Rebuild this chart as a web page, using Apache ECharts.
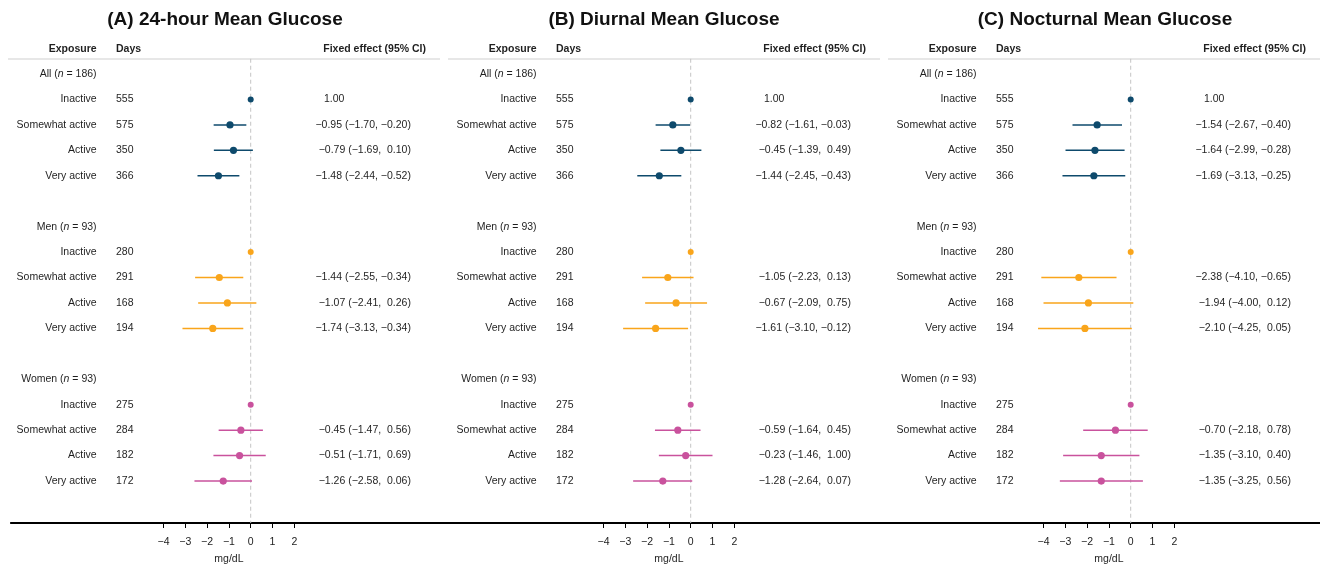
<!DOCTYPE html>
<html><head><meta charset="utf-8">
<script src="https://cdn.jsdelivr.net/npm/echarts@6/dist/echarts.min.js"></script>
<style>html,body{margin:0;padding:0;background:#fff}#c{width:1320px;height:564px}</style>
</head><body><div id="c"></div>
<script>
// ---------- data ----------
const panelTitles = ['(A) 24-hour Mean Glucose', '(B) Diurnal Mean Glucose', '(C) Nocturnal Mean Glucose'];
const groupNames = ['All', 'Men', 'Women'];
const groupN = [186, 93, 93];
const exposures = ['Inactive', 'Somewhat active', 'Active', 'Very active'];
const daysAll = [555, 575, 350, 366];
const daysMen = [280, 291, 168, 194];
const daysWomen = [275, 284, 182, 172];
const refText = ['1.00', '', ''];
const xTicks = [-4, -3, -2, -1, 0, 1, 2];
const xUnit = 'mg/dL';

// Panel A: 24-hour
const estA = [[0, -0.95, -0.79, -1.48], [0, -1.44, -1.07, -1.74], [0, -0.45, -0.51, -1.26]];
const loA  = [[null, -1.70, -1.69, -2.44], [null, -2.55, -2.41, -3.13], [null, -1.47, -1.71, -2.58]];
const hiA  = [[null, -0.20, 0.10, -0.52], [null, -0.34, 0.26, -0.34], [null, 0.56, 0.69, 0.06]];
// Panel B: Diurnal
const estB = [[0, -0.82, -0.45, -1.44], [0, -1.05, -0.67, -1.61], [0, -0.59, -0.23, -1.28]];
const loB  = [[null, -1.61, -1.39, -2.45], [null, -2.23, -2.09, -3.10], [null, -1.64, -1.46, -2.64]];
const hiB  = [[null, -0.03, 0.49, -0.43], [null, 0.13, 0.75, -0.12], [null, 0.45, 1.00, 0.07]];
// Panel C: Nocturnal
const estC = [[0, -1.54, -1.64, -1.69], [0, -2.38, -1.94, -2.10], [0, -0.70, -1.35, -1.35]];
const loC  = [[null, -2.67, -2.99, -3.13], [null, -4.10, -4.00, -4.25], [null, -2.18, -3.10, -3.25]];
const hiC  = [[null, -0.40, -0.28, -0.25], [null, -0.65, 0.12, 0.05], [null, 0.78, 0.40, 0.56]];

// ---------- layout / style ----------
const days = [daysAll, daysMen, daysWomen];
const panels = [[estA, loA, hiA], [estB, loB, hiB], [estC, loC, hiC]];
const colors = ['#0e4a6c', '#f9a51b', '#c9529d'];
const FONT = '"Liberation Sans", Arial, Helvetica, sans-serif';
const FS = 10.5;
const pxPerUnit = 21.8;
const xMin = -11;
const panelW = 440;
const W = 1320;
const gridLeft0 = 250.7 + xMin * pxPerUnit;   // zero of panel A at ~250.7 px
const yMin = -0.6, yMax = 17.65, rowPx = 25.44;
const gridTop = 74 + yMin * rowPx;
const gridH = (yMax - yMin) * rowPx;
const titleX = [225, 664, 1105];

// column positions (x in axis units relative to panel, y in rows)
const COL_EXPO = -7.07, COL_DAYS = -6.18, COL_CI = 7.35, COL_REF = 3.36, COL_CIHEAD = 8.04;
const ROW_HEAD = -0.98, ROW_UNIT = 19.05;

function minus(v) { return (v < 0 ? '\u2212' : '') + Math.abs(v).toFixed(2); }
function ciStr(e, l, h) {
  return minus(e) + ' (' + minus(l) + ', ' + (h >= 0 ? ' ' : '') + minus(h) + ')';
}
function rowOf(g, k) { return g * 6 + (k < 0 ? 0 : k + 1); }

const grids = [], xAxes = [], yAxes = [], series = [], graphics = [];

for (let p = 0; p < 3; p++) {
  const left = gridLeft0 + p * panelW;
  const width = Math.min(panelW, W - left);
  grids.push({ left: left, top: gridTop, width: width, height: gridH, containLabel: false });
  xAxes.push({
    type: 'value', gridIndex: p, min: xMin, max: xMin + width / pxPerUnit,
    axisLine: { onZero: false, lineStyle: { color: '#000', width: 2 } },
    axisTick: { show: true, length: 5, customValues: xTicks, lineStyle: { color: '#000', width: 1 } },
    axisLabel: { customValues: xTicks, margin: 14, fontFamily: FONT, fontSize: FS, color: '#222',
      formatter: v => (v < 0 ? '\u2212' + Math.abs(v) : String(v)) },
    splitLine: { show: false }
  });
  yAxes.push({ type: 'value', gridIndex: p, min: yMin, max: yMax, inverse: true, show: false });

  // zero reference line
  series.push({
    type: 'line', xAxisIndex: p, yAxisIndex: p, data: [[0, yMin], [0, yMax]], symbol: 'none', silent: true, z: 1,
    lineStyle: { color: '#c4c4c4', width: 1, type: [4, 3] }
  });

  // text items
  const items = [];
  items.push({ x: COL_EXPO, y: ROW_HEAD, t: 'Exposure', a: 'right', b: true });
  items.push({ x: COL_DAYS, y: ROW_HEAD, t: 'Days', a: 'left', b: true });
  items.push({ x: COL_CIHEAD, y: ROW_HEAD, t: 'Fixed effect (95% CI)', a: 'right', b: true });
  items.push({ x: -1, y: ROW_UNIT, t: xUnit, a: 'center' });
  const [E, L, H] = panels[p];
  for (let g = 0; g < 3; g++) {
    items.push({ x: COL_EXPO, y: rowOf(g, -1), t: groupNames[g] + ' ({i|n} = ' + groupN[g] + ')', a: 'right' });
    for (let k = 0; k < 4; k++) {
      const r = rowOf(g, k);
      items.push({ x: COL_EXPO, y: r, t: exposures[k], a: 'right' });
      items.push({ x: COL_DAYS, y: r, t: String(days[g][k]), a: 'left' });
      if (L[g][k] == null) {
        if (refText[g]) items.push({ x: COL_REF, y: r, t: refText[g], a: 'left' });
      } else {
        items.push({ x: COL_CI, y: r, t: ciStr(E[g][k], L[g][k], H[g][k]), a: 'right' });
      }
    }
  }
  series.push({
    type: 'custom', xAxisIndex: p, yAxisIndex: p, clip: false, silent: true, z: 3,
    data: items.map(it => [it.x, it.y]),
    renderItem: (params, api) => {
      const it = items[params.dataIndex];
      const c = api.coord([api.value(0), api.value(1)]);
      return {
        type: 'text', x: c[0], y: c[1],
        style: {
          text: it.t, align: it.a, verticalAlign: 'middle', fill: '#1f1f1f',
          fontFamily: FONT, fontSize: FS, fontWeight: it.b ? 'bold' : 'normal',
          rich: { i: { fontStyle: 'italic', fontFamily: FONT, fontSize: FS, fill: '#1f1f1f' } }
        }
      };
    }
  });

  // forest marks
  for (let g = 0; g < 3; g++) {
    const d = [];
    for (let k = 0; k < 4; k++) {
      const lo = L[g][k] == null ? E[g][k] : L[g][k];
      const hi = H[g][k] == null ? E[g][k] : H[g][k];
      d.push([E[g][k], lo, hi, rowOf(g, k)]);
    }
    const col = colors[g];
    series.push({
      type: 'custom', xAxisIndex: p, yAxisIndex: p, clip: false, silent: true, z: 4,
      data: d,
      renderItem: (params, api) => {
        const r = api.value(3);
        const pe = api.coord([api.value(0), r]);
        const pl = api.coord([api.value(1), r]);
        const ph = api.coord([api.value(2), r]);
        const ref = api.value(1) === api.value(2);
        return {
          type: 'group', children: [
            { type: 'line', shape: { x1: pl[0], y1: pl[1], x2: ph[0], y2: ph[1] }, style: { stroke: col, lineWidth: 1.5 } },
            { type: 'circle', shape: { cx: pe[0], cy: pe[1], r: ref ? 3 : 3.6 }, style: { fill: col } }
          ]
        };
      }
    });
  }

  // header separator
  graphics.push({ type: 'line', shape: { x1: 8 + p * panelW, y1: 59, x2: (p + 1) * panelW, y2: 59 },
    style: { stroke: '#cfcfcf', lineWidth: 1 }, silent: true });
  // title
  graphics.push({ type: 'text', x: titleX[p], y: 20,
    style: { text: panelTitles[p], align: 'center', verticalAlign: 'middle', fill: '#111',
      fontFamily: FONT, fontSize: 19, fontWeight: 'bold' }, silent: true });
}

const chart = echarts.init(document.getElementById('c'), null, { renderer: 'canvas' });
chart.setOption({
  animation: false,
  backgroundColor: '#fff',
  grid: grids, xAxis: xAxes, yAxis: yAxes, series: series, graphic: graphics
});
</script></body></html>
